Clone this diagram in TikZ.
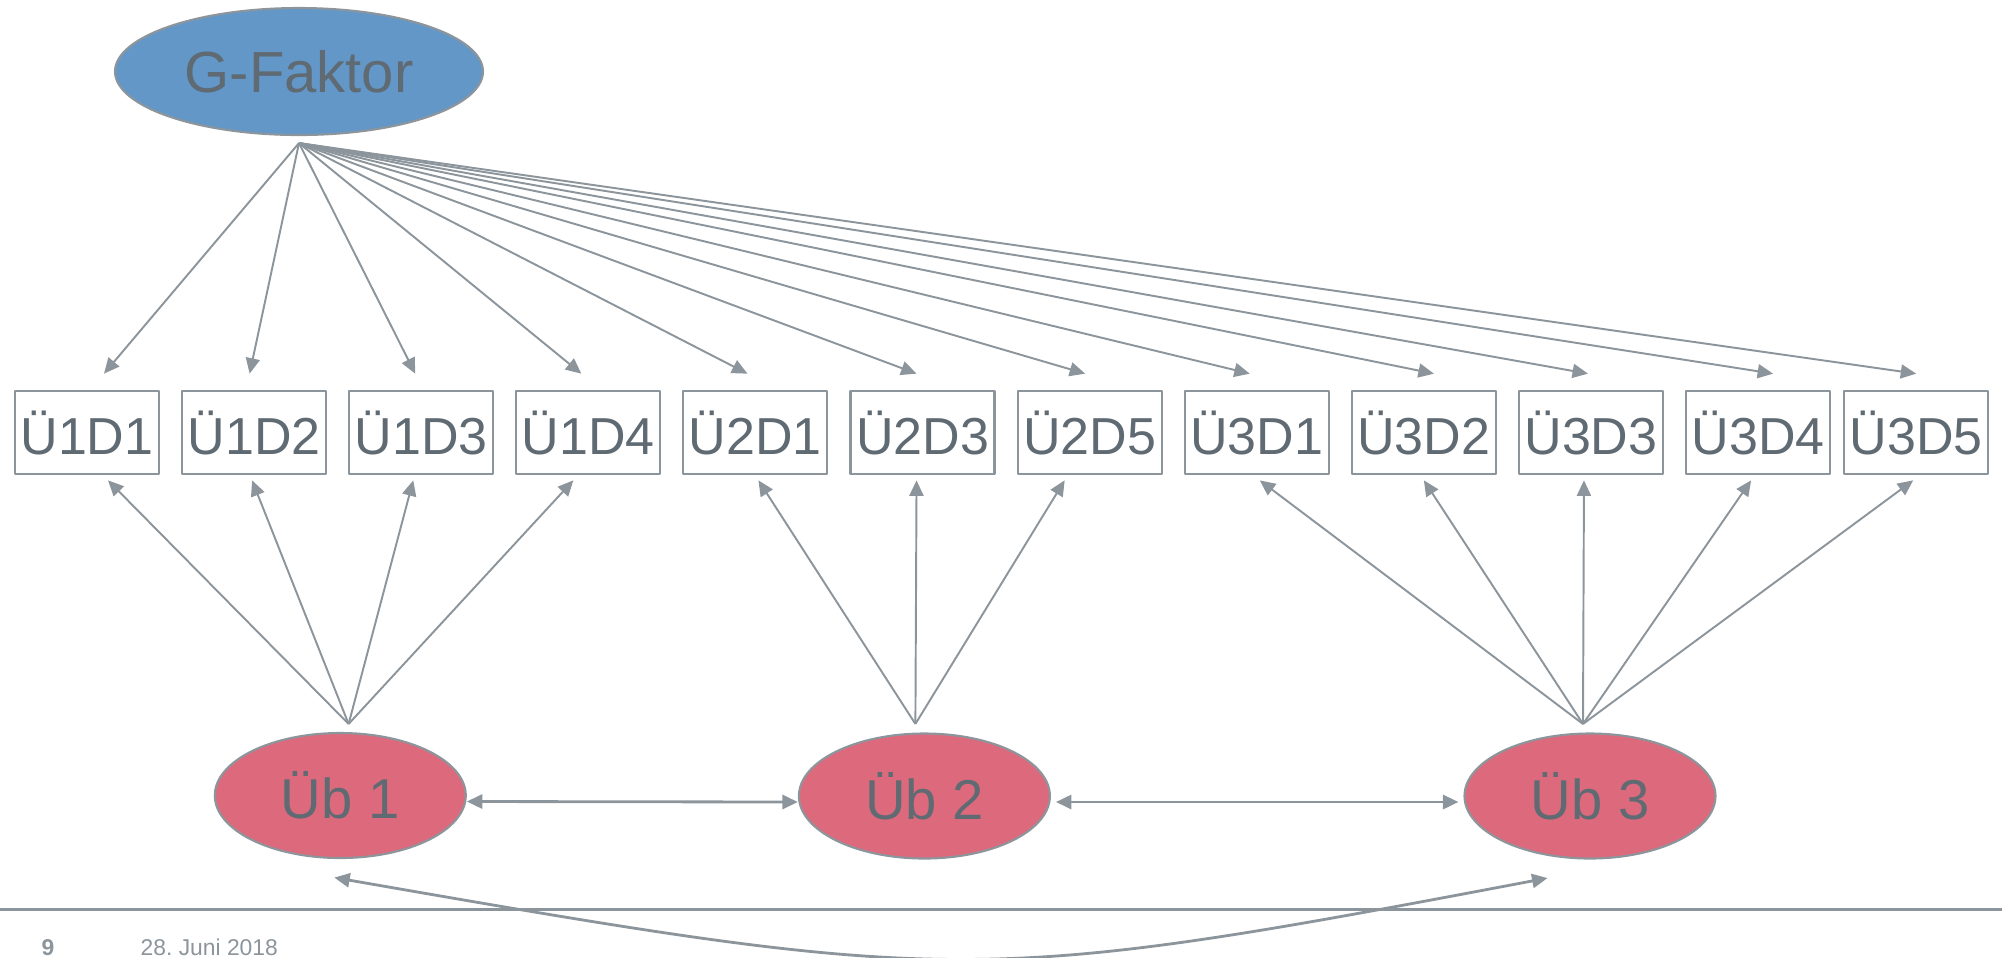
\documentclass[tikz,border=0pt]{standalone}
\usepackage{fontspec}
\setmainfont{Liberation Sans}
\frenchspacing
\usetikzlibrary{positioning,calc,arrows.meta,shapes.geometric}
\definecolor{lgray}{HTML}{8C959B}
\definecolor{tgray}{HTML}{5F6A72}
\definecolor{gblue}{HTML}{6397C8}
\definecolor{ubred}{HTML}{DD6A7C}
\begin{document}
\begin{tikzpicture}[line join=round,>={Triangle[length=4.4pt,width=4pt]},font=\fontsize{14.8}{17}\selectfont]
	\tikzset{box/.style={draw=lgray,line width=0.6pt,fill=white,text=tgray,minimum width=1.44cm,minimum height=0.836cm,inner sep=0pt},
		fac/.style={ellipse,draw=lgray,line width=0.6pt,text=tgray,inner sep=0pt,minimum width=2.51cm,minimum height=1.25cm,font=\fontsize{16}{19}\selectfont},
		pfeil/.style={draw=lgray,line width=0.55pt,->},
		fuss/.style={anchor=base west,text=lgray,inner sep=0pt,font=\fontsize{6.5}{8}\selectfont}}
	\useasboundingbox (0,0) rectangle (20.02,-9.57);
	% faktoren
	\node[fac,fill=gblue,minimum width=3.68cm,minimum height=1.27cm,font=\fontsize{16.5}{19}\selectfont] (gfak) at (2.99,-0.715) {G-Faktor};
	\node[fac,fill=ubred] (ueb1) at (3.403,-7.955) {Üb 1};
	\node[fac,fill=ubred] (ueb2) at (9.244,-7.96) {Üb 2};
	\node[fac,fill=ubred] (ueb3) at (15.90,-7.96) {Üb 3};
	% indikatoren
	\node[box] (d11) at (0.87,-4.325) {Ü1D1};
	\node[box,right=0.21 of d11] (d12) {Ü1D2};
	\node[box,right=0.21 of d12] (d13) {Ü1D3};
	\node[box,right=0.21 of d13] (d14) {Ü1D4};
	\node[box,right=0.21 of d14] (d21) {Ü2D1};
	\node[box,right=0.21 of d21] (d23) {Ü2D3};
	\node[box,right=0.21 of d23] (d25) {Ü2D5};
	\node[box,right=0.21 of d25] (d31) {Ü3D1};
	\node[box,right=0.21 of d31] (d32) {Ü3D2};
	\node[box,right=0.21 of d32] (d33) {Ü3D3};
	\node[box,right=0.21 of d33] (d34) {Ü3D4};
	\node[box,right=0.12 of d34] (d35) {Ü3D5};
	% ausgangspunkte der pfeile
	\coordinate (g0) at ([yshift=-0.07cm]gfak.south);
	\coordinate (a1) at ([xshift=0.083cm,yshift=0.08cm]ueb1.north);
	\coordinate (a2) at ([xshift=-0.09cm,yshift=0.085cm]ueb2.north);
	\coordinate (a3) at ([xshift=-0.07cm,yshift=0.085cm]ueb3.north);
	\foreach \d/\dx in {d11/0.17,d12/-0.045,d13/-0.06,d14/-0.07,d21/-0.08,d23/-0.06,d25/-0.045,d31/-0.07,d32/0.10,d33/-0.03,d34/0.15,d35/0}
		\draw[pfeil] (g0) -- ([xshift=\dx cm,yshift=0.16cm]\d.north);
	\foreach \d/\dx in {d11/0.21,d12/-0.02,d13/-0.08,d14/-0.15}
		\draw[pfeil] (a1) -- ([xshift=\dx cm,yshift=-0.05cm]\d.south);
	\foreach \d/\dx in {d21/0.03,d23/-0.06,d25/-0.25}
		\draw[pfeil] (a2) -- ([xshift=\dx cm,yshift=-0.05cm]\d.south);
	\foreach \d/\dx in {d31/0.03,d32/0,d33/-0.07,d34/-0.07,d35/-0.03}
		\draw[pfeil] (a3) -- ([xshift=\dx cm,yshift=-0.05cm]\d.south);
	% korrelationen
	\draw[pfeil,<->,line width=0.8pt] ([yshift=-0.06cm]ueb1.east) -- ([yshift=-0.06cm]ueb2.west);
	\draw[pfeil,<->,line width=0.8pt] ([xshift=0.05cm,yshift=-0.06cm]ueb2.east) -- ([xshift=-0.05cm,yshift=-0.06cm]ueb3.west);
	\draw[pfeil,<->,line width=0.8pt] ([xshift=-0.06cm,yshift=-0.185cm]ueb1.south) .. controls +(6.2,-1.08) and +(-5.7,-1.08) .. ([xshift=-0.425cm,yshift=-0.185cm]ueb3.south);
	% fusszeile
	\draw[lgray,line width=0.85pt] (0,-9.09) -- (20.02,-9.09);
	\node[fuss,font=\fontsize{6.5}{8}\selectfont\bfseries] (seite) at (0.41,-9.55) {9};
	\node[fuss] (datum) at (1.40,-9.55) {28. Juni 2018};
\end{tikzpicture}
\end{document}
